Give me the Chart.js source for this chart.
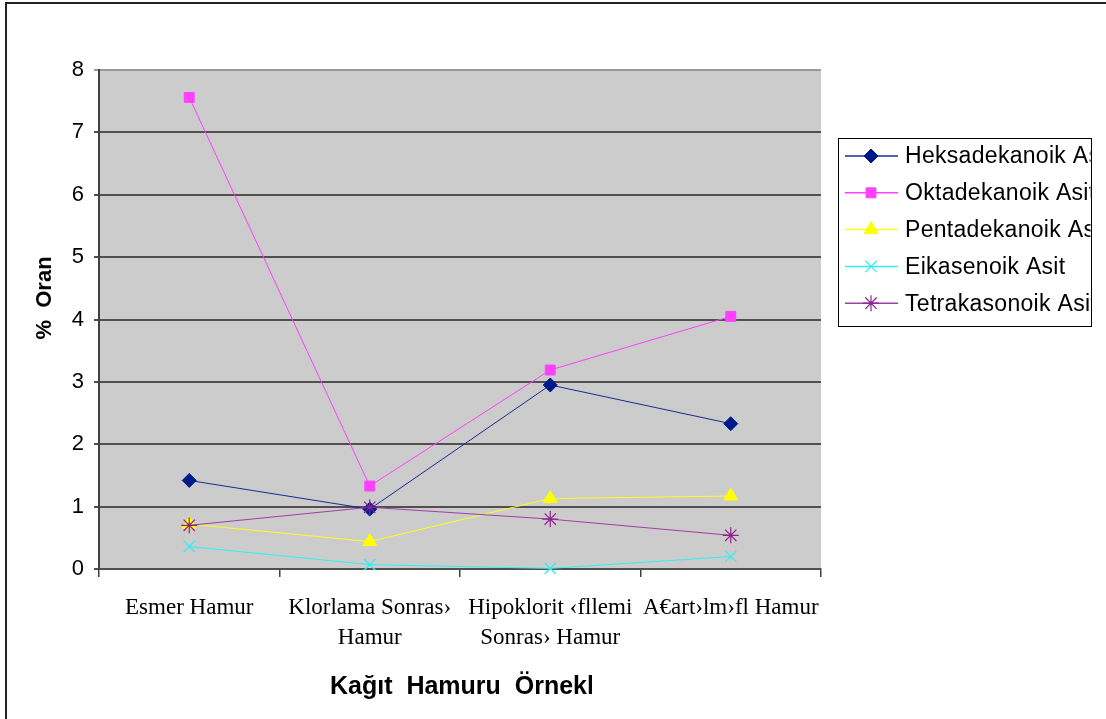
<!DOCTYPE html>
<html>
<head>
<meta charset="utf-8">
<script src="https://cdn.jsdelivr.net/npm/chart.js@4/dist/chart.umd.min.js"></script>
<style>
  html, body { margin: 0; padding: 0; background: #ffffff; }
  canvas { display: block; }
</style>
</head>
<body>
<canvas id="c" width="1106" height="719"></canvas>
<script>
// Pulp samples (x categories)
const categories = [
  'Esmer Hamur',
  ['Klorlama Sonras›', 'Hamur'],
  ['Hipoklorit ‹fllemi', 'Sonras› Hamur'],
  'A€art›lm›fl Hamur'
];

// Fatty acid shares (%)
const heksadekanoik = [1.42, 0.96, 2.95, 2.33];
const oktadekanoik  = [7.56, 1.33, 3.19, 4.05];
const pentadekanoik = [0.72, 0.44, 1.13, 1.17];
const eikasenoik    = [0.36, 0.07, 0.01, 0.20];
const tetrakasonoik = [0.70, 0.99, 0.80, 0.54];

const seriesNames = [
  'Heksadekanoik Asit',
  'Oktadekanoik Asit',
  'Pentadekanoik Asit',
  'Eikasenoik Asit',
  'Tetrakasonoik Asit'
];

const yTicks = [0, 1, 2, 3, 4, 5, 6, 7, 8];
const yTitle = '%  Oran';
const xTitle = 'Kağıt  Hamuru  Örnekleri';

const styles = [
  { line: '#1a2a96', fill: '#001a8c', stroke: '#001a8c', point: 'rectRot', r: 7 },
  { line: '#ff40ff', fill: '#ff40ff', stroke: '#ff40ff', point: 'rect', r: 7 },
  { line: '#ffff20', fill: '#ffff00', stroke: '#ffff00', point: 'triangle', r: 8 },
  { line: '#30f0f0', fill: '#30f0f0', stroke: '#30f0f0', point: 'crossRot', r: 8 },
  { line: '#a040a0', fill: '#902090', stroke: '#902090', point: 'star', r: 8 }
];

const values = [heksadekanoik, oktadekanoik, pentadekanoik, eikasenoik, tetrakasonoik];

// later series are painted over earlier ones
const datasets = values.map((v, i) => ({
  label: seriesNames[i],
  data: v,
  order: values.length - 1 - i,
  borderColor: styles[i].line,
  borderWidth: 1,
  backgroundColor: styles[i].fill,
  pointStyle: styles[i].point,
  pointRadius: styles[i].r,
  pointBackgroundColor: styles[i].fill,
  pointBorderColor: styles[i].stroke,
  pointBorderWidth: styles[i].point === 'crossRot' || styles[i].point === 'star' ? 1.2 : 1,
  tension: 0,
  clip: false
}));

const framePlugin = {
  id: 'frame',
  beforeDraw(chart) {
    const { ctx, chartArea: a } = chart;
    ctx.save();
    ctx.fillStyle = '#ffffff';
    ctx.fillRect(0, 0, chart.width, chart.height);
    ctx.fillStyle = '#cccccc';
    ctx.fillRect(a.left, a.top, a.right - a.left, a.bottom - a.top);
    // outer frame (top and left edges)
    ctx.strokeStyle = '#222222';
    ctx.lineWidth = 2;
    ctx.beginPath();
    ctx.moveTo(6, chart.height);
    ctx.lineTo(6, 3);
    ctx.lineTo(chart.width, 3);
    ctx.stroke();
    ctx.restore();
  },
  afterDraw(chart) {
    const { ctx } = chart;
    ctx.save();
    // axis titles
    ctx.fillStyle = '#000000';
    ctx.textBaseline = 'middle';

    ctx.save();
    ctx.font = 'bold 22px "Liberation Sans", Arial, sans-serif';
    ctx.textAlign = 'center';
    ctx.translate(45, 298);
    ctx.rotate(-Math.PI / 2);
    ctx.fillText(yTitle, 0, 0);
    ctx.restore();

    ctx.save();
    ctx.beginPath();
    ctx.rect(0, 640, 592, 79);
    ctx.clip();
    ctx.font = 'bold 25px "Liberation Sans", Arial, sans-serif';
    ctx.textAlign = 'left';
    ctx.fillText(xTitle, 330, 687);
    ctx.restore();

    // legend box
    const bx = 838.5, by = 138.5, bw = 253, bh = 188;
    ctx.fillStyle = '#ffffff';
    ctx.fillRect(bx, by, bw, bh);
    ctx.strokeStyle = '#000000';
    ctx.lineWidth = 1;
    ctx.strokeRect(bx, by, bw, bh);

    ctx.save();
    ctx.beginPath();
    ctx.rect(bx + 1, by + 1, bw - 2, bh - 2);
    ctx.clip();
    const rowY0 = 156, rowStep = 36.8;
    chart.data.datasets.forEach((ds, i) => {
      const y = rowY0 + i * rowStep;
      ctx.strokeStyle = ds.borderColor;
      ctx.lineWidth = 1.5;
      ctx.beginPath();
      ctx.moveTo(845, y);
      ctx.lineTo(898, y);
      ctx.stroke();
      ctx.fillStyle = ds.pointBackgroundColor;
      ctx.strokeStyle = ds.pointBorderColor;
      ctx.lineWidth = ds.pointBorderWidth;
      Chart.helpers.drawPoint(ctx, {
        pointStyle: ds.pointStyle,
        radius: ds.pointRadius,
        rotation: 0,
        borderWidth: ds.pointBorderWidth
      }, 871, y);
      ctx.fillStyle = '#000000';
      ctx.font = '23px "Liberation Sans", Arial, sans-serif';
      ctx.letterSpacing = '0.3px';
      ctx.textAlign = 'left';
      ctx.textBaseline = 'middle';
      ctx.fillText(ds.label, 905, y + 1);
    });
    ctx.restore();
    ctx.restore();
  }
};

new Chart(document.getElementById('c'), {
  type: 'line',
  data: { labels: categories, datasets },
  options: {
    responsive: false,
    animation: false,
    devicePixelRatio: 1,
    layout: { padding: { left: 0, top: 70, right: 285, bottom: 0 } },
    plugins: {
      legend: { display: false },
      tooltip: { enabled: false }
    },
    scales: {
      x: {
        offset: true,
        grid: {
          offset: true,
          drawOnChartArea: false,
          drawTicks: true,
          tickLength: 8,
          color: '#404040',
          lineWidth: 1.5
        },
        border: { display: true, color: '#505050', width: 2 },
        ticks: {
          autoSkip: false,
          maxRotation: 0,
          minRotation: 0,
          padding: 16,
          color: '#000000',
          font: { family: '"Liberation Serif", "Times New Roman", serif', size: 23, lineHeight: 1.3 }
        },
        afterFit(scale) { scale.height = 150; }
      },
      y: {
        min: yTicks[0],
        max: yTicks[yTicks.length - 1],
        afterBuildTicks(scale) { scale.ticks = yTicks.map(v => ({ value: v })); },
        grid: {
          drawTicks: true,
          tickLength: 5,
          color: (c) => (c.tick && c.tick.value === 8 ? '#9a9a9a' : '#505050'),
          lineWidth: 2
        },
        border: { display: true, color: '#404040', width: 2 },
        ticks: {
          padding: 10,
          color: '#000000',
          font: { family: '"Liberation Sans", Arial, sans-serif', size: 22 }
        },
        afterFit(scale) { scale.width = 99; }
      }
    }
  },
  plugins: [framePlugin]
});
</script>
</body>
</html>
